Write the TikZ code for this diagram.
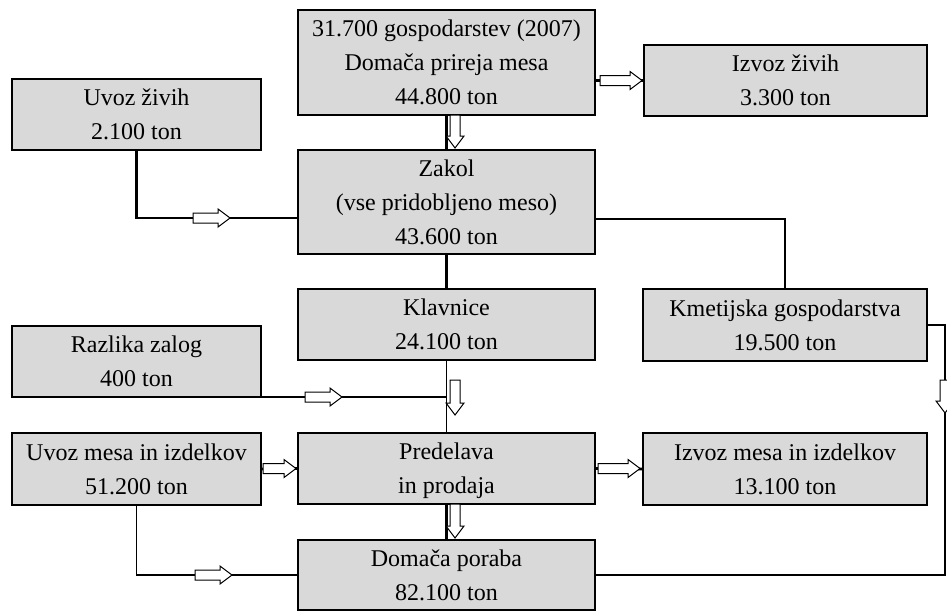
\documentclass[tikz,border=0pt]{standalone}
\usepackage{fontspec}
\setmainfont{Liberation Serif}
\begin{document}
\begin{tikzpicture}[x=1pt,y=-1pt,
  box/.style={draw=black, line width=2.5pt, fill=boxgray, align=center, inner sep=0pt, outer sep=0pt,
    font=\fontsize{24}{34}\selectfont, text depth=0pt},
  thickline/.style={line width=2.8pt},
  thinline/.style={line width=1.5pt},
  pics/harrow/.style={code={
    \draw[line width=1pt, fill=white, line join=miter]
      (0,-5) -- (#1-12,-5) -- (#1-12,-9) -- (#1,0) -- (#1-12,9) -- (#1-12,5) -- (0,5) -- cycle;}}
]
\definecolor{boxgray}{RGB}{217,217,217}
\useasboundingbox (0,0) rectangle (947,610);

% boxes
\node[box, minimum width=297, minimum height=105] (top) at (446.5,62.5)
  {31.700 gospodarstev (2007)\\Domača prireja mesa\\44.800 ton};
\node[box, minimum width=283, minimum height=71] (izvZ) at (785.5,80.5) {Izvoz živih\\3.300 ton};
\node[box, minimum width=249, minimum height=71] (uvZ) at (136.5,114.5) {Uvoz živih\\2.100 ton};
\node[box, minimum width=297, minimum height=104] (zakol) at (446.5,202)
  {Zakol\\(vse pridobljeno meso)\\43.600 ton};
\node[box, minimum width=297, minimum height=71] (klav) at (446.5,324.5) {Klavnice\\24.100 ton};
\node[box, minimum width=284, minimum height=72] (kmet) at (785,325) {Kmetijska gospodarstva\\19.500 ton};
\node[box, minimum width=249, minimum height=71] (raz) at (136.5,361.5) {Razlika zalog\\400 ton};
\node[box, minimum width=249, minimum height=72] (uvM) at (136.5,469) {Uvoz mesa in izdelkov\\51.200 ton};
\node[box, minimum width=297, minimum height=71] (pred) at (446.5,468.5) {Predelava\\in prodaja};
\node[box, minimum width=284, minimum height=72] (izvM) at (785,469) {Izvoz mesa in izdelkov\\13.100 ton};
\node[box, minimum width=297, minimum height=70] (dom) at (446.5,575) {Domača poraba\\82.100 ton};

% junction coordinates
\coordinate (j1) at (136.5,218);
\coordinate (j2) at (785,219);
\coordinate (j4) at (136.5,575);
\coordinate (j5) at (945,325);
\coordinate (j6) at (945,575);

% connectors
\draw[thickline] (top.east |- izvZ.west) -- (izvZ.west);
\draw[thickline] (top.south) -- (zakol.north);
\draw[thickline] (uvZ.south) -- (j1) -- (j1 -| zakol.west);
\draw[thickline] (j2 -| zakol.east) -- (j2) -- (kmet.north);
\draw[thickline] (zakol.south) -- (klav.north);
\draw[thinline] (raz.south east) -- (raz.south east -| klav.south);
\draw[thinline] (klav.south) -- (pred.north);
\draw[thickline] (uvM.east) -- (pred.west);
\draw[thickline] (pred.east) -- (izvM.west);
\draw[thickline] (pred.south) -- (dom.north);
\draw[thinline] (uvM.south) -- (j4) -- (j4 -| dom.west);
\draw[thinline] (kmet.east) -- (j5) -- (j6) -- (j6 -| dom.east);

% hollow arrows
\pic at (600,80.5) {harrow=42};
\pic[rotate=-90] at (455,115) {harrow=33};
\pic at (193,218) {harrow=37};
\pic at (305,397) {harrow=37};
\pic[rotate=-90] at (455,380) {harrow=35};
\pic at (263,468.5) {harrow=33};
\pic at (598,468.5) {harrow=42};
\pic[rotate=-90] at (455,504) {harrow=34};
\pic at (195,575) {harrow=37};
\pic[rotate=-90] at (945,380) {harrow=33};
\end{tikzpicture}
\end{document}
